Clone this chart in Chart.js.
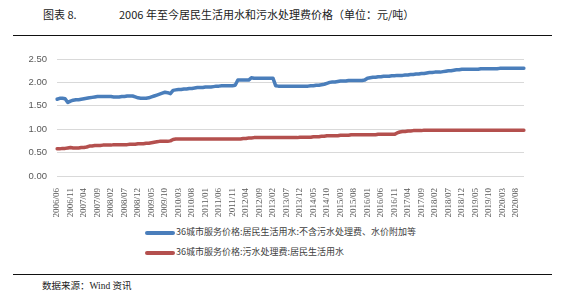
<!DOCTYPE html>
<html>
<head>
<meta charset="utf-8">
<script src="https://cdn.jsdelivr.net/npm/chart.js@4"></script>
<style>
  body { margin: 0; width: 561px; height: 297px; background: #fff; position: relative; overflow: hidden; font-family: "Noto Sans CJK SC", sans-serif; }
  .title { position: absolute; top: 6px; left: 43px; font-size: 11px; color: #222; white-space: nowrap; }
  .title span { position: absolute; left: 76px; }
  .rule { position: absolute; left: 13px; width: 539px; height: 0; border-top: 1.5px solid #111; }
  #wrap { position: absolute; left: 0; top: 40px; width: 561px; height: 180px; }
  .legend { position: absolute; left: 145px; font-size: 9px; color: #404040; white-space: nowrap; }
  .legend div { height: 20px; line-height: 20px; }
  .legend i { display: inline-block; width: 30px; height: 4px; vertical-align: middle; margin-right: 1px; border-radius: 2px; }
  .source { position: absolute; left: 42px; top: 278px; font-size: 9.5px; color: #222; }
  .source b { font-family: "Liberation Serif", serif; font-weight: normal; }
</style>
</head>
<body>
<div class="title">图表 8.<span>2006 年至今居民生活用水和污水处理费价格（单位：元/吨）</span></div>
<div class="rule" style="top:35px"></div>
<div id="wrap"><canvas id="chart1"></canvas></div>
<div class="legend" id="legend" style="top:222px"></div>
<div class="rule" style="top:274px"></div>
<div class="source">数据来源：<b>Wind</b> 资讯</div>

<script>
// monthly, 2006/06 - 2020/11
var startYear = 2006, startMonth = 6, monthCount = 174;

var tickLabels = ["2006/06", "2006/11", "2007/04", "2007/09", "2008/02", "2008/07", "2008/12",
    "2009/05", "2009/10", "2010/03", "2010/08", "2011/01", "2011/06", "2011/11", "2012/04",
    "2012/09", "2013/02", "2013/07", "2013/12", "2014/05", "2014/10", "2015/03", "2015/08",
    "2016/01", "2016/06", "2016/11", "2017/04", "2017/09", "2018/02", "2018/07", "2018/12",
    "2019/05", "2019/10", "2020/03", "2020/08"];

var seriesNames = ["36城市服务价格:居民生活用水:不含污水处理费、水价附加等", "36城市服务价格:污水处理费:居民生活用水"];

// 居民生活用水 (一年一行)
var waterPrice = [
    1.64, 1.66, 1.66, 1.65, 1.57, 1.60, 1.62,
    1.63, 1.63, 1.64, 1.65, 1.66, 1.67, 1.68, 1.69, 1.70, 1.70, 1.70, 1.70,
    1.70, 1.70, 1.69, 1.69, 1.69, 1.70, 1.70, 1.71, 1.71, 1.71, 1.69, 1.67,
    1.66, 1.66, 1.66, 1.67, 1.69, 1.71, 1.73, 1.75, 1.77, 1.79, 1.78, 1.76,
    1.83, 1.84, 1.85, 1.85, 1.86, 1.86, 1.87, 1.87, 1.88, 1.89, 1.89, 1.89,
    1.90, 1.90, 1.90, 1.91, 1.92, 1.92, 1.93, 1.93, 1.93, 1.93, 1.93, 1.94,
    2.05, 2.05, 2.05, 2.05, 2.05, 2.10, 2.09, 2.09, 2.09, 2.09, 2.09, 2.09,
    2.09, 2.09, 1.93, 1.92, 1.92, 1.92, 1.92, 1.92, 1.92, 1.92, 1.92, 1.92,
    1.92, 1.92, 1.92, 1.93, 1.93, 1.94, 1.94, 1.95, 1.96, 1.98, 2.00, 2.01,
    2.01, 2.02, 2.03, 2.03, 2.03, 2.04, 2.04, 2.04, 2.04, 2.04, 2.04, 2.05,
    2.09, 2.10, 2.11, 2.11, 2.12, 2.12, 2.13, 2.13, 2.13, 2.14, 2.14, 2.15,
    2.15, 2.15, 2.16, 2.16, 2.17, 2.17, 2.18, 2.18, 2.19, 2.19, 2.20, 2.21,
    2.21, 2.22, 2.22, 2.22, 2.23, 2.24, 2.25, 2.25, 2.26, 2.27, 2.27, 2.28,
    2.28, 2.28, 2.28, 2.28, 2.28, 2.28, 2.29, 2.29, 2.29, 2.29, 2.29, 2.29,
    2.29, 2.30, 2.30, 2.30, 2.30, 2.30, 2.30, 2.30, 2.30, 2.30, 2.30
];

// 污水处理费
var sewageFee = [
    0.58, 0.58, 0.59, 0.59, 0.60, 0.61, 0.60,
    0.60, 0.60, 0.61, 0.61, 0.62, 0.64, 0.64, 0.65, 0.65, 0.65, 0.66, 0.66,
    0.66, 0.66, 0.67, 0.67, 0.67, 0.67, 0.67, 0.67, 0.68, 0.68, 0.68, 0.69,
    0.69, 0.69, 0.70, 0.70, 0.71, 0.72, 0.73, 0.74, 0.74, 0.74, 0.74, 0.75,
    0.78, 0.79, 0.79, 0.79, 0.79, 0.79, 0.79, 0.79, 0.79, 0.79, 0.79, 0.79,
    0.79, 0.79, 0.79, 0.79, 0.79, 0.79, 0.79, 0.79, 0.79, 0.79, 0.79, 0.79,
    0.79, 0.79, 0.80, 0.80, 0.81, 0.81, 0.82, 0.82, 0.82, 0.82, 0.82, 0.82,
    0.82, 0.82, 0.82, 0.82, 0.82, 0.82, 0.82, 0.82, 0.82, 0.82, 0.82, 0.83,
    0.83, 0.83, 0.83, 0.83, 0.84, 0.84, 0.84, 0.85, 0.85, 0.86, 0.86, 0.86,
    0.86, 0.86, 0.87, 0.87, 0.87, 0.87, 0.88, 0.88, 0.88, 0.88, 0.88, 0.88,
    0.88, 0.88, 0.88, 0.88, 0.89, 0.89, 0.89, 0.89, 0.89, 0.89, 0.89, 0.92,
    0.94, 0.95, 0.95, 0.96, 0.96, 0.97, 0.97, 0.97, 0.97, 0.98, 0.98, 0.98,
    0.98, 0.98, 0.98, 0.98, 0.98, 0.98, 0.98, 0.98, 0.98, 0.98, 0.98, 0.98,
    0.98, 0.98, 0.98, 0.98, 0.98, 0.98, 0.98, 0.98, 0.98, 0.98, 0.98, 0.98,
    0.98, 0.98, 0.98, 0.98, 0.98, 0.98, 0.98, 0.98, 0.98, 0.98, 0.98
];

var seriesColors = ["#4a7ebb", "#b4504e"];

var months = [];
for (var k = 0; k < monthCount; k++) {
    var m = startMonth - 1 + k;
    var y = startYear + Math.floor(m / 12);
    var mm = (m % 12) + 1;
    months.push(y + "/" + (mm < 10 ? "0" + mm : mm));
}

var options = {
    type: 'line',
    data: {
        labels: months,
        datasets: [
            { label: seriesNames[0], data: waterPrice, borderColor: seriesColors[0], backgroundColor: seriesColors[0] },
            { label: seriesNames[1], data: sewageFee, borderColor: seriesColors[1], backgroundColor: seriesColors[1] }
        ]
    },
    options: {
        responsive: true,
        maintainAspectRatio: false,
        animation: false,
        layout: { padding: { top: 19, right: 37, left: 0, bottom: 0 } },
        elements: {
            point: { radius: 0 },
            line: { borderWidth: 3.5, tension: 0, borderCapStyle: 'round', borderJoinStyle: 'round' }
        },
        plugins: {
            legend: { display: false },
            tooltip: { enabled: false }
        },
        scales: {
            x: {
                grid: { display: false },
                border: { display: false },
                afterFit: function (scale) { scale.height = 44; },
                ticks: {
                    autoSkip: false,
                    maxRotation: 90,
                    minRotation: 90,
                    padding: 4,
                    color: '#595959',
                    font: { family: '"Liberation Serif", serif', size: 9 },
                    callback: function (value) {
                        var lab = this.getLabelForValue(value);
                        return tickLabels.indexOf(lab) >= 0 ? lab : '';
                    }
                }
            },
            y: {
                min: 0,
                max: 2.5,
                grid: { color: '#d9d9d9', drawTicks: false },
                border: { display: false },
                afterFit: function (scale) { scale.width = 57; },
                ticks: {
                    stepSize: 0.5,
                    padding: 10,
                    color: '#595959',
                    font: { family: '"Liberation Sans", sans-serif', size: 9.5 },
                    callback: function (v) { return v.toFixed(2); }
                }
            }
        }
    }
};

var chartElement = document.querySelector("#chart1");
var chart = new Chart(chartElement, options);

// legend stacked in two rows, like the original
var legendBox = document.getElementById("legend");
chart.data.datasets.forEach(function (ds) {
    var row = document.createElement("div");
    var sw = document.createElement("i");
    sw.style.background = ds.borderColor;
    row.appendChild(sw);
    row.appendChild(document.createTextNode(ds.label));
    legendBox.appendChild(row);
});
</script>
</body>
</html>
